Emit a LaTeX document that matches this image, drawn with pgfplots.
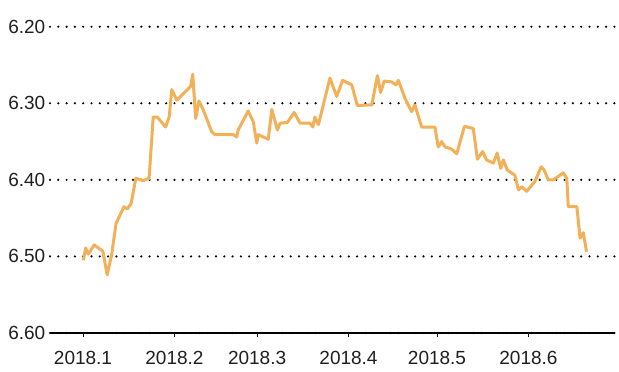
\documentclass[border=0pt]{standalone}
\usepackage{pgfplots}
\pgfplotsset{compat=1.18}
\usepackage{fontspec}
\setmainfont{Liberation Sans}
\definecolor{lineor}{RGB}{242,176,88}
\begin{document}
\begin{tikzpicture}[x=1pt,y=1pt]
\useasboundingbox (0,0) rectangle (619,372);
\begin{axis}[
  at={(50pt,39pt)}, anchor=south west,
  scale only axis, width=565pt, height=306.3pt,
  xmin=-11.19, xmax=180.34, ymin=6.2, ymax=6.6, y dir=reverse,
  axis x line*=bottom, axis y line*=left,
  y axis line style={draw=none},
  x axis line style={black, line width=1.5pt, -},
  xtick={0,31,59,90,120,151},
  xticklabels={2018.1,2018.2,2018.3,2018.4,2018.5,2018.6},
  ytick={6.2,6.3,6.4,6.5,6.6},
  tick align=outside,
  major tick length=4pt,
  xtick style={black, line width=1pt},
  ytick style={draw=none},
  ymajorgrids,
  major grid style={black, line width=2.4pt, dash pattern=on 0pt off 8.3pt, line cap=round},
  /pgf/number format/assume math mode=true,
  /pgf/number format/fixed,
  /pgf/number format/fixed zerofill,
  /pgf/number format/precision=2,
  ticklabel style={font=\fontsize{19}{21}\selectfont, text=black!88, inner sep=0pt},
  xticklabel style={anchor=north, yshift=-14.5pt},
  yticklabel style={anchor=east, xshift=-0.5pt},
  clip=false,
]
\addplot[lineor, line width=3pt, line join=round] coordinates {
(0.1,6.505)(0.9,6.489)(1.8,6.497)(3.8,6.485)(6.7,6.493)(8.2,6.524)(9.7,6.498)
(11.2,6.457)(13.9,6.435)(15.0,6.438)(16.3,6.431)(17.9,6.398)(20.4,6.401)(22.4,6.398)
(23.8,6.318)(25.2,6.318)(28.0,6.331)(29.2,6.318)(30.1,6.282)(31.8,6.296)(35.2,6.283)
(36.5,6.278)(37.2,6.262)(38.2,6.320)(39.3,6.297)(40.8,6.309)(43.6,6.337)(44.7,6.341)
(51.0,6.341)(52.1,6.344)(52.6,6.335)(56.0,6.310)(57.7,6.324)(58.9,6.352)(59.4,6.341)
(62.8,6.347)(64.0,6.308)(65.9,6.335)(66.8,6.326)(69.3,6.325)(71.6,6.312)(73.6,6.326)
(76.9,6.326)(77.9,6.331)(78.6,6.318)(79.8,6.328)(83.7,6.267)(86.0,6.291)(88.0,6.270)
(91.1,6.276)(93.0,6.303)(97.9,6.302)(99.8,6.264)(100.9,6.286)(102.1,6.271)(104.6,6.272)
(106.1,6.276)(106.9,6.270)(109.2,6.294)(111.4,6.311)(112.5,6.302)(114.8,6.331)(119.3,6.331)
(120.4,6.357)(121.6,6.350)(122.7,6.357)(125.0,6.360)(126.7,6.366)(129.3,6.330)(132.3,6.333)
(133.7,6.373)(135.5,6.363)(136.8,6.374)(139.1,6.378)(140.4,6.365)(141.6,6.385)(142.5,6.374)
(143.8,6.387)(146.4,6.394)(147.6,6.413)(148.7,6.409)(150.4,6.415)(153.2,6.402)(155.3,6.383)
(156.3,6.387)(157.7,6.400)(159.4,6.400)(162.8,6.391)(164.0,6.398)(164.5,6.435)(167.4,6.435)
(168.5,6.476)(169.6,6.469)(170.7,6.494)
};
\end{axis}
\end{tikzpicture}
\end{document}
